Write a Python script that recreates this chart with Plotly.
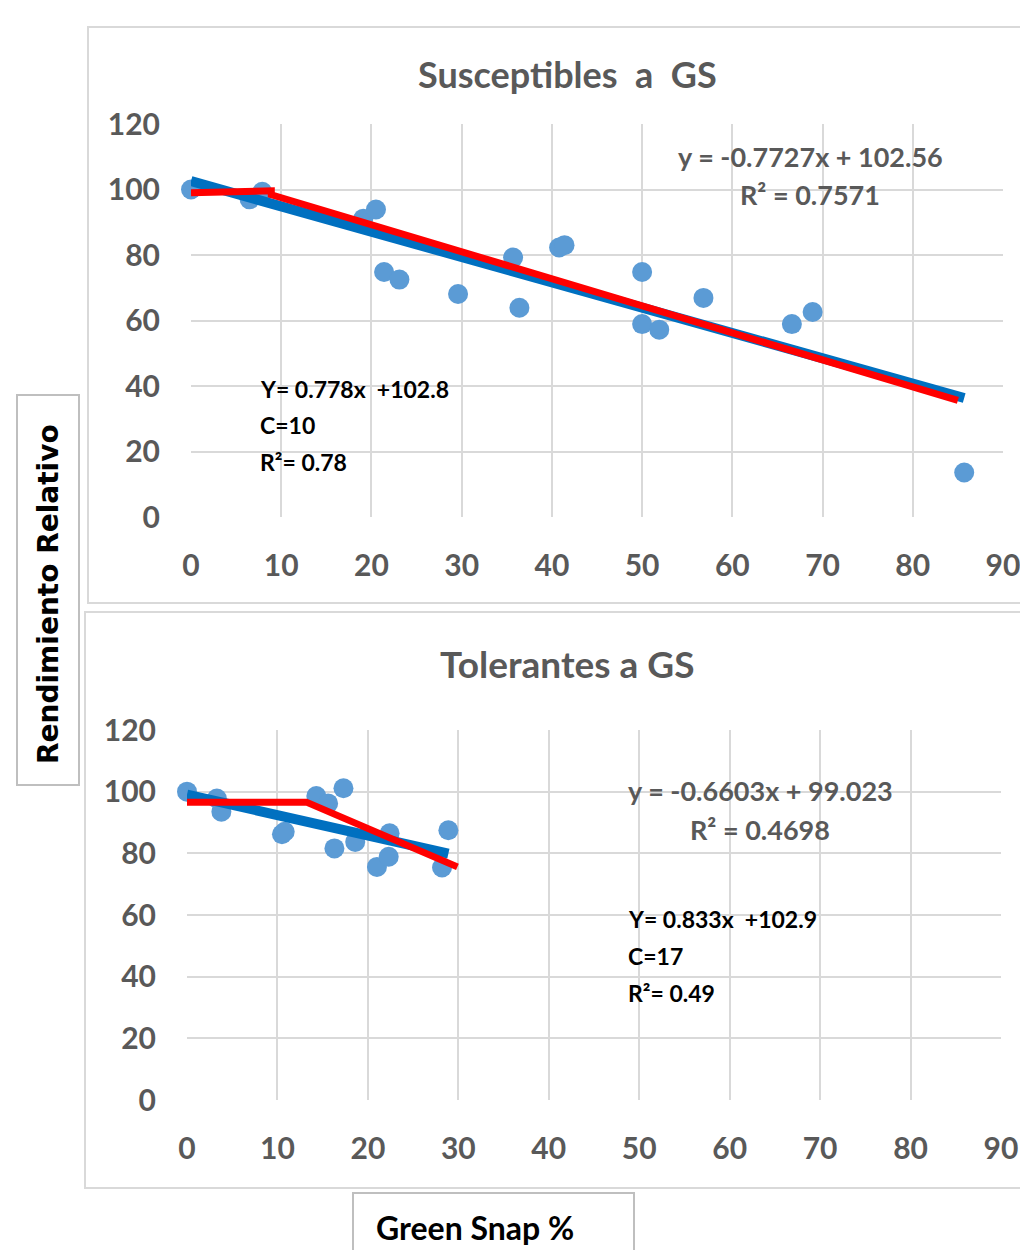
import plotly.graph_objects as go

# ---- data: Susceptibles a GS ----
sus_x = [0, 6.5, 7.9, 19.1, 20.5, 21.4, 23.1, 29.6, 35.7, 36.4, 40.8, 41.4, 50.0, 50.0, 51.9, 56.8, 66.6, 68.9, 85.7]
sus_y = [100, 97.0, 99.3, 91.1, 93.9, 74.8, 72.5, 68.1, 79.2, 63.9, 82.3, 83.0, 74.8, 58.9, 57.2, 66.9, 58.9, 62.6, 13.6]
sus_lin_x = [0, 85.7]
sus_lin_y = [102.56, 102.56 - 0.7727 * 85.7]
sus_seg_x = [0, 8.9, 8.9, 85]
sus_seg_y = [99.0, 99.6, 98.4, 35.6]

# ---- data: Tolerantes a GS ----
tol_x = [0, 3.3, 3.8, 10.5, 10.8, 14.3, 15.6, 17.3, 16.3, 18.6, 21.0, 22.4, 22.3, 28.9, 28.2]
tol_y = [100, 97.8, 93.5, 86.2, 87.0, 98.6, 96.2, 101.1, 81.6, 83.7, 75.6, 86.5, 78.9, 87.5, 75.4]
tol_lin_x = [0, 28.9]
tol_lin_y = [99.023, 99.023 - 0.6603 * 28.9]
tol_seg_x = [0, 13.2, 29.9]
tol_seg_y = [96.6, 96.6, 75.6]

x_ticks = [0, 10, 20, 30, 40, 50, 60, 70, 80, 90]
y_ticks = [0, 20, 40, 60, 80, 100, 120]

W, H = 1028, 1250
OFF = 8  # page body margin
FONT = "Lato"
GRAY = "#595959"
GRID = "#d9d9d9"

fig = go.Figure()

def px_x(p):
    return (p - OFF) / W

def px_y(p):
    return 1 - (p - OFF) / H

panels = [
    dict(xs=sus_x, ys=sus_y, lx=sus_lin_x, ly=sus_lin_y, sx=sus_seg_x, sy=sus_seg_y,
         xa="x", ya="y"),
    dict(xs=tol_x, ys=tol_y, lx=tol_lin_x, ly=tol_lin_y, sx=tol_seg_x, sy=tol_seg_y,
         xa="x2", ya="y2"),
]

for p in panels:
    fig.add_trace(go.Scatter(x=p["xs"], y=p["ys"], mode="markers",
                             marker=dict(size=20, color="#5b9bd5"),
                             xaxis=p["xa"], yaxis=p["ya"], showlegend=False, cliponaxis=False))
    fig.add_trace(go.Scatter(x=p["lx"], y=p["ly"], mode="lines",
                             line=dict(color="#0070c0", width=10),
                             xaxis=p["xa"], yaxis=p["ya"], showlegend=False, cliponaxis=False))
    fig.add_trace(go.Scatter(x=p["sx"], y=p["sy"], mode="lines",
                             line=dict(color="#ff0000", width=7),
                             xaxis=p["xa"], yaxis=p["ya"], showlegend=False, cliponaxis=False))

axis_common = dict(showgrid=True, gridcolor=GRID, gridwidth=2, zeroline=False,
                   showline=False, automargin=False,
                   tickfont=dict(family=FONT, size=30, color=GRAY, weight="bold"),
                   fixedrange=True)

fig.update_layout(
    width=W, height=H,
    margin=dict(l=0, r=0, t=0, b=0, pad=0, autoexpand=False),
    showlegend=False,
    plot_bgcolor="white", paper_bgcolor="white",
    xaxis=dict(domain=[px_x(191), px_x(1003)], range=[0, 90], tickvals=x_ticks,
               ticklabelstandoff=28, anchor="y", **axis_common),
    yaxis=dict(domain=[px_y(517), px_y(124)], range=[0, 120], tickvals=y_ticks,
               ticklabelstandoff=30, anchor="x", **axis_common),
    xaxis2=dict(domain=[px_x(187), px_x(1001)], range=[0, 90], tickvals=x_ticks,
                ticklabelstandoff=28, anchor="y2", **axis_common),
    yaxis2=dict(domain=[px_y(1100), px_y(730)], range=[0, 120], tickvals=y_ticks,
                ticklabelstandoff=30, anchor="x2", **axis_common),
)

shapes = [
    # chart frames
    dict(type="rect", xref="paper", yref="paper", x0=px_x(88), x1=px_x(1045),
         y0=px_y(603), y1=px_y(27), line=dict(color="#d9d9d9", width=2)),
    dict(type="rect", xref="paper", yref="paper", x0=px_x(85), x1=px_x(1045),
         y0=px_y(1188), y1=px_y(612), line=dict(color="#d9d9d9", width=2)),
    # axis title boxes
    dict(type="rect", xref="paper", yref="paper", x0=px_x(17), x1=px_x(79),
         y0=px_y(785), y1=px_y(395), line=dict(color="#bfbfbf", width=2)),
    dict(type="rect", xref="paper", yref="paper", x0=px_x(353), x1=px_x(634),
         y0=px_y(1275), y1=px_y(1193), line=dict(color="#bfbfbf", width=2)),
]
fig.update_layout(shapes=shapes)

def txt(x, y, s, size=24, color=GRAY, xanchor="center", angle=0, family=FONT):
    return dict(x=px_x(x), y=px_y(y), xref="paper", yref="paper", text=s, showarrow=False,
                xanchor=xanchor, yanchor="middle", textangle=angle,
                font=dict(family=family, size=size, color=color, weight="bold"))

ann = [
    txt(567, 74, "Susceptibles  a  GS", size=36),
    txt(567, 663, "Tolerantes a GS", size=37),
    txt(810, 156, "y = -0.7727x + 102.56", size=27),
    txt(810, 195, "R² = 0.7571", size=27),
    txt(258, 389, "Y= 0.778x  +102.8", size=23, color="black", xanchor="left"),
    txt(258, 425, "C=10", size=23, color="black", xanchor="left"),
    txt(258, 462, "R²= 0.78", size=23, color="black", xanchor="left"),
    txt(760, 790, "y = -0.6603x + 99.023", size=27),
    txt(760, 829, "R² = 0.4698", size=27),
    txt(626, 919, "Y= 0.833x  +102.9", size=23, color="black", xanchor="left"),
    txt(626, 956, "C=17", size=23, color="black", xanchor="left"),
    txt(626, 993, "R²= 0.49", size=23, color="black", xanchor="left"),
    txt(48, 594, "Rendimiento Relativo", size=28, color="black", angle=-90, family="DejaVu Sans"),
    txt(475, 1227, "Green Snap %", size=32, color="black"),
]
fig.update_layout(annotations=ann)

fig.write_html("out.html")
